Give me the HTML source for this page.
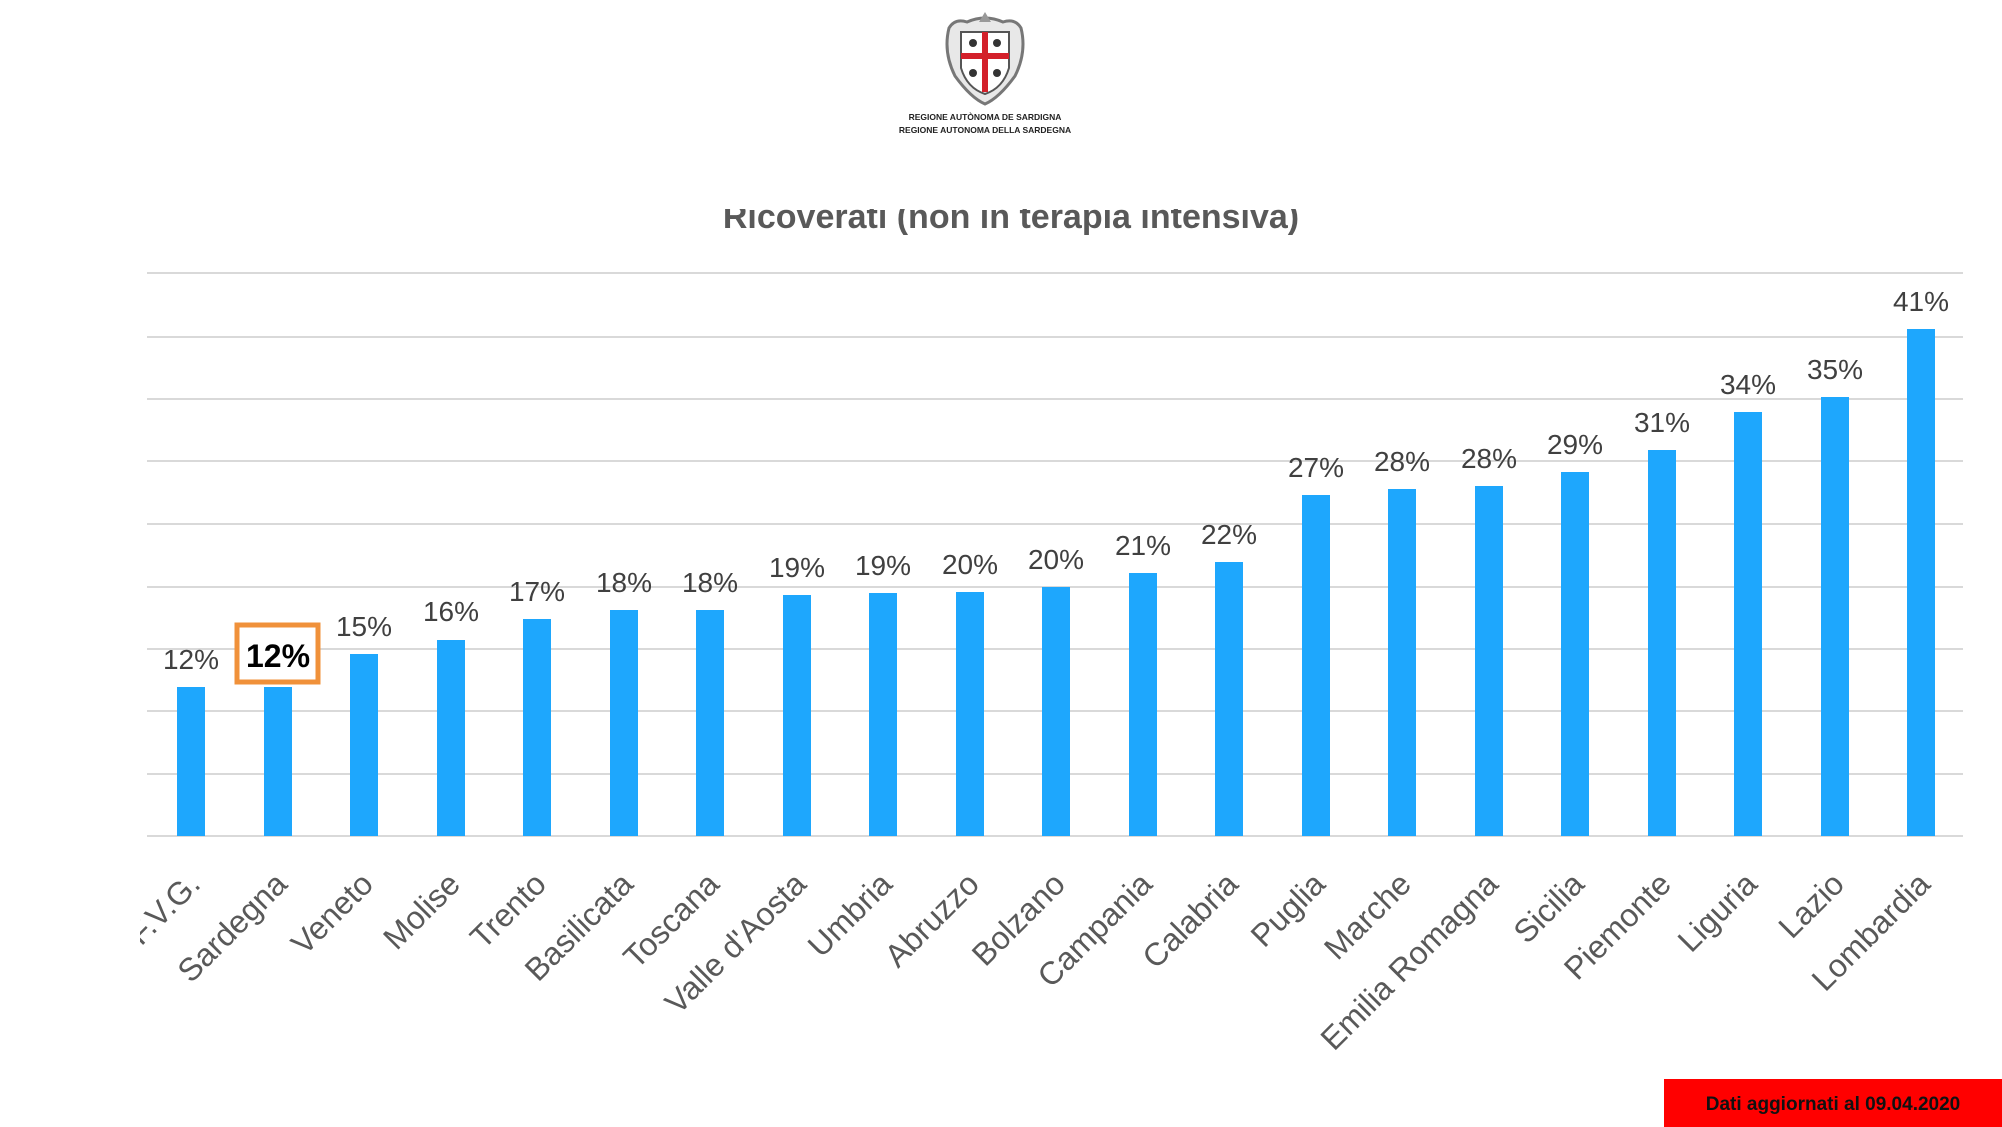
<!DOCTYPE html>
<html><head><meta charset="utf-8"><style>
html,body{margin:0;padding:0;background:#fff;}
svg{display:block;}
</style></head><body>
<svg width="2002" height="1127" viewBox="0 0 2002 1127" xmlns="http://www.w3.org/2000/svg" font-family="Liberation Sans, sans-serif">
<rect width="2002" height="1127" fill="#fff"/>
<!-- logo -->
<g transform="translate(985,62)">
<path d="M-36,-34 Q-30,-44 -18,-40 Q0,-48 18,-40 Q30,-44 36,-34 Q42,-10 30,14 Q14,36 0,42 Q-14,36 -30,14 Q-42,-10 -36,-34Z" fill="#e8e8e8" stroke="#777" stroke-width="3"/>
<path d="M-24,-30 L24,-30 L24,6 Q18,26 0,32 Q-18,26 -24,6Z" fill="#fff" stroke="#555" stroke-width="2"/>
<rect x="-3" y="-30" width="6" height="60" fill="#d3202a"/>
<rect x="-24" y="-9" width="48" height="6" fill="#d3202a"/>
<circle cx="-12" cy="-19" r="4" fill="#333"/><circle cx="12" cy="-19" r="4" fill="#333"/>
<circle cx="-12" cy="11" r="4" fill="#333"/><circle cx="12" cy="11" r="4" fill="#333"/>
<path d="M-6,-40 L0,-50 L6,-40" fill="#999"/>
</g>
<text x="985" y="120" font-size="8.5" font-weight="bold" text-anchor="middle" fill="#222">REGIONE AUTÒNOMA DE SARDIGNA</text>
<text x="985" y="133" font-size="8.5" font-weight="bold" text-anchor="middle" fill="#222">REGIONE AUTONOMA DELLA SARDEGNA</text>
<!-- title (clipped top) -->
<clipPath id="tc"><rect x="0" y="209" width="2002" height="40"/></clipPath>
<text x="1011" y="228" font-size="34" font-weight="bold" text-anchor="middle" fill="#595959" clip-path="url(#tc)">Ricoverati (non in terapia intensiva)</text>
<!-- grid -->
<g stroke="#d9d9d9" stroke-width="2">
<line x1="147" y1="273" x2="1963" y2="273"/>
<line x1="147" y1="337" x2="1963" y2="337"/>
<line x1="147" y1="399" x2="1963" y2="399"/>
<line x1="147" y1="461" x2="1963" y2="461"/>
<line x1="147" y1="524" x2="1963" y2="524"/>
<line x1="147" y1="587" x2="1963" y2="587"/>
<line x1="147" y1="649" x2="1963" y2="649"/>
<line x1="147" y1="711" x2="1963" y2="711"/>
<line x1="147" y1="774" x2="1963" y2="774"/>
<line x1="147" y1="836" x2="1963" y2="836"/>
</g>
<g fill="#1ea7fd">
<rect x="177" y="687" width="28" height="149"/>
<rect x="264" y="687" width="28" height="149"/>
<rect x="350" y="654" width="28" height="182"/>
<rect x="437" y="640" width="28" height="196"/>
<rect x="523" y="619" width="28" height="217"/>
<rect x="610" y="610" width="28" height="226"/>
<rect x="696" y="610" width="28" height="226"/>
<rect x="783" y="595" width="28" height="241"/>
<rect x="869" y="593" width="28" height="243"/>
<rect x="956" y="592" width="28" height="244"/>
<rect x="1042" y="587" width="28" height="249"/>
<rect x="1129" y="573" width="28" height="263"/>
<rect x="1215" y="562" width="28" height="274"/>
<rect x="1302" y="495" width="28" height="341"/>
<rect x="1388" y="489" width="28" height="347"/>
<rect x="1475" y="486" width="28" height="350"/>
<rect x="1561" y="472" width="28" height="364"/>
<rect x="1648" y="450" width="28" height="386"/>
<rect x="1734" y="412" width="28" height="424"/>
<rect x="1821" y="397" width="28" height="439"/>
<rect x="1907" y="329" width="28" height="507"/>
</g>
<g font-size="28" fill="#404040" text-anchor="middle">
<text x="191" y="669">12%</text>
<text x="364" y="636">15%</text>
<text x="451" y="621">16%</text>
<text x="537" y="601">17%</text>
<text x="624" y="592">18%</text>
<text x="710" y="592">18%</text>
<text x="797" y="577">19%</text>
<text x="883" y="575">19%</text>
<text x="970" y="574">20%</text>
<text x="1056" y="569">20%</text>
<text x="1143" y="555">21%</text>
<text x="1229" y="544">22%</text>
<text x="1316" y="477">27%</text>
<text x="1402" y="471">28%</text>
<text x="1489" y="468">28%</text>
<text x="1575" y="454">29%</text>
<text x="1662" y="432">31%</text>
<text x="1748" y="394">34%</text>
<text x="1835" y="379">35%</text>
<text x="1921" y="311">41%</text>
</g>
<rect x="237" y="625" width="81" height="57" fill="#fff" stroke="#f0913a" stroke-width="5"/>
<text x="278" y="667" font-size="32" font-weight="bold" text-anchor="middle" fill="#000">12%</text>
<!-- categories -->
<clipPath id="lc"><rect x="140" y="840" width="1862" height="300"/></clipPath>
<g font-size="32" fill="#595959" text-anchor="end" clip-path="url(#lc)">
<text transform="translate(202,886) rotate(-45)">F.V.G.</text>
<text transform="translate(289,886) rotate(-45)">Sardegna</text>
<text transform="translate(375,886) rotate(-45)">Veneto</text>
<text transform="translate(462,886) rotate(-45)">Molise</text>
<text transform="translate(548,886) rotate(-45)">Trento</text>
<text transform="translate(635,886) rotate(-45)">Basilicata</text>
<text transform="translate(721,886) rotate(-45)">Toscana</text>
<text transform="translate(808,886) rotate(-45)">Valle d'Aosta</text>
<text transform="translate(894,886) rotate(-45)">Umbria</text>
<text transform="translate(981,886) rotate(-45)">Abruzzo</text>
<text transform="translate(1067,886) rotate(-45)">Bolzano</text>
<text transform="translate(1154,886) rotate(-45)">Campania</text>
<text transform="translate(1240,886) rotate(-45)">Calabria</text>
<text transform="translate(1327,886) rotate(-45)">Puglia</text>
<text transform="translate(1413,886) rotate(-45)">Marche</text>
<text transform="translate(1500,886) rotate(-45)">Emilia Romagna</text>
<text transform="translate(1586,886) rotate(-45)">Sicilia</text>
<text transform="translate(1673,886) rotate(-45)">Piemonte</text>
<text transform="translate(1759,886) rotate(-45)">Liguria</text>
<text transform="translate(1846,886) rotate(-45)">Lazio</text>
<text transform="translate(1932,886) rotate(-45)">Lombardia</text>
</g>
<rect x="1664" y="1079" width="338" height="48" fill="#ff0000"/>
<text x="1833" y="1110" font-size="19" font-weight="bold" text-anchor="middle" fill="#111">Dati aggiornati al 09.04.2020</text>
</svg>
</body></html>
